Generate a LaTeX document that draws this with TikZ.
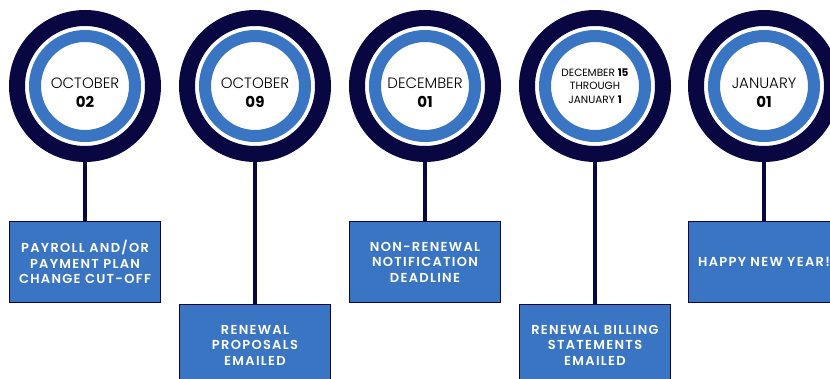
\documentclass[tikz,border=0pt]{standalone}
\usepackage{fontspec}
\setmainfont{Poppins}
\newfontfamily\lightfont{Poppins Light}
\newfontfamily\boxfont{Poppins SemiBold}[LetterSpace=10]
\usepackage{xcolor}
\usetikzlibrary{positioning, calc}
\definecolor{navyring}{RGB}{8,7,66}
\definecolor{ringblue}{RGB}{58,117,196}

\tikzset{
    outerring/.style={circle, draw=navyring, line width=16pt, minimum size=136pt, inner sep=0pt},
    innerring/.style={circle, draw=ringblue, line width=12pt, minimum size=100pt, inner sep=0pt},
    datetext/.style={align=center, inner sep=0pt, font=\fontsize{15}{19}\selectfont},
    datebox/.style={rectangle, draw=navyring, line width=1pt, fill=ringblue, minimum width=151pt, minimum height=81pt, inner sep=0pt, text=white, align=center, font=\boxfont\fontsize{13}{15.5}\selectfont},
    stem/.style={navyring, line width=3.5pt}
}

\begin{document}
\begin{tikzpicture}[x=1pt, y=-1pt]
    \clip (0,0) rectangle (830,379);
    \fill[white] (0,0) rectangle (830,379);

    % Rings
    \node[outerring] (o1) at (85,86) {};
    \node[outerring] (o2) at (255,86) {};
    \node[outerring] (o3) at (425,86) {};
    \node[outerring] (o4) at (595,86) {};
    \node[outerring] (o5) at (764,86) {};
    \node[innerring] (r1) at (o1) {};
    \node[innerring] (r2) at (o2) {};
    \node[innerring] (r3) at (o3) {};
    \node[innerring] (r4) at (o4) {};
    \node[innerring] (r5) at (o5) {};

    % Dates
    \node[datetext] (d1) at ([yshift=-7pt]r1.center) {{\lightfont OCTOBER}\\\textbf{02}};
    \node[datetext] (d2) at ([yshift=-7pt]r2.center) {{\lightfont OCTOBER}\\\textbf{09}};
    \node[datetext] (d3) at ([yshift=-7pt]r3.center) {{\lightfont DECEMBER}\\\textbf{01}};
    \node[datetext, font=\fontsize{10.5}{13.5}\selectfont] (d4) at (r4.center) {DECEMBER \textbf{15}\\THROUGH\\JANUARY \textbf{1}};
    \node[datetext] (d5) at ([yshift=-7pt]r5.center) {{\lightfont JANUARY}\\\textbf{01}};

    % Events
    \node[datebox, anchor=north] (b1) at (85,221) {PAYROLL AND/OR\\PAYMENT PLAN\\CHANGE CUT-OFF};
    \node[datebox, anchor=north] (b2) at (255,304) {RENEWAL\\PROPOSALS\\EMAILED};
    \node[datebox, anchor=north] (b3) at (425,221) {NON-RENEWAL\\NOTIFICATION\\DEADLINE};
    \node[datebox, anchor=north] (b4) at (595,304) {RENEWAL BILLING\\STATEMENTS\\EMAILED};
    \node[datebox, anchor=north] (b5) at (764,221) {HAPPY NEW YEAR!};

    % Stems
    \draw[stem] (o1.south) -- (b1.north);
    \draw[stem] (o2.south) -- (b2.north);
    \draw[stem] (o3.south) -- (b3.north);
    \draw[stem] (o4.south) -- (b4.north);
    \draw[stem] (o5.south) -- (b5.north);
\end{tikzpicture}
\end{document}
